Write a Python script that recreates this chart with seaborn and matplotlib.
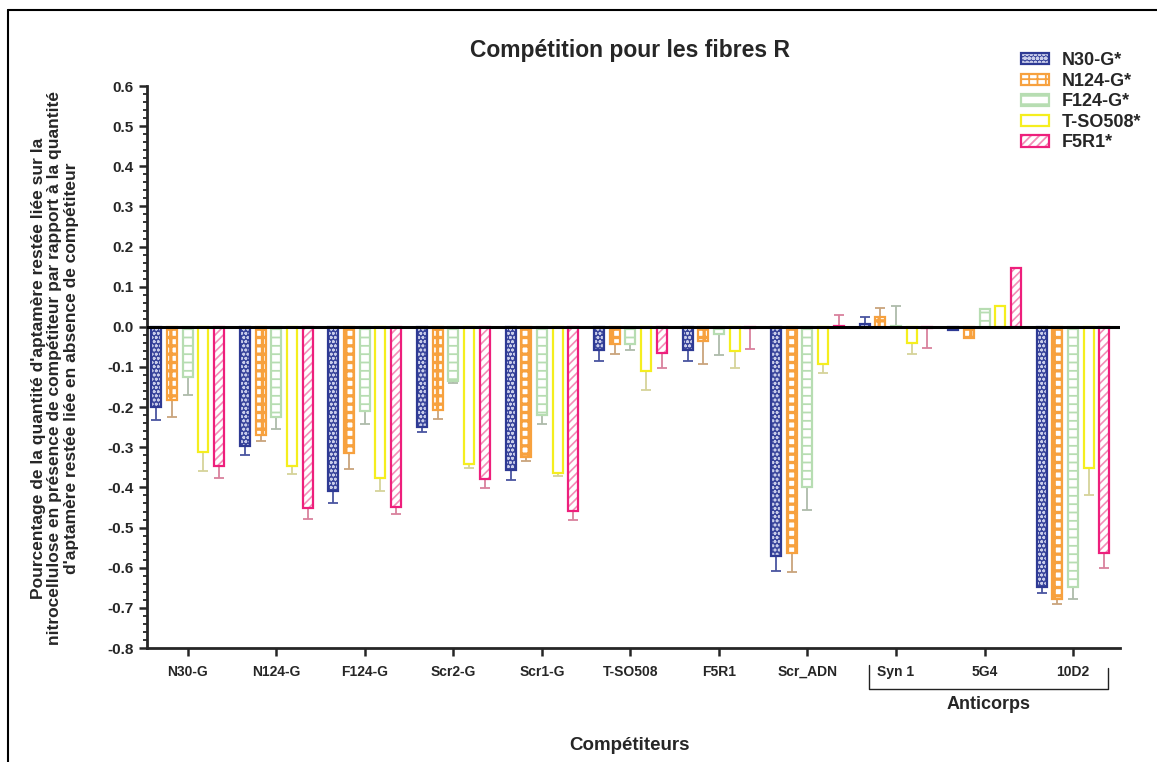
import matplotlib
matplotlib.use("Agg")
import numpy as np
import pandas as pd
import matplotlib.pyplot as plt
import seaborn as sns
from matplotlib.patches import Rectangle, Patch
from matplotlib.lines import Line2D
from matplotlib.legend_handler import HandlerTuple
from matplotlib.ticker import MultipleLocator, FormatStrFormatter

competiteurs = ["N30-G", "N124-G", "F124-G", "Scr2-G", "Scr1-G", "T-SO508",
                "F5R1", "Scr_ADN", "Syn 1", "5G4", "10D2"]
series = ["N30-G*", "N124-G*", "F124-G*", "T-SO508*", "F5R1*"]

n30 = [-0.200, -0.298, -0.409, -0.249, -0.357, -0.057, -0.057, -0.570, 0.007, -0.009, -0.649]
n30_err = [0.031, 0.021, 0.031, 0.013, 0.025, 0.027, 0.028, 0.037, 0.017, 0, 0.013]
n124 = [-0.182, -0.269, -0.315, -0.207, -0.323, -0.042, -0.035, -0.563, 0.024, -0.027, -0.679]
n124_err = [0.042, 0.015, 0.039, 0.023, 0.011, 0.026, 0.058, 0.047, 0.023, 0, 0.012]
f124 = [-0.124, -0.225, -0.209, -0.136, -0.219, -0.042, -0.018, -0.398, 0.002, 0.044, -0.649]
f124_err = [0.046, 0.029, 0.033, 0.005, 0.023, 0.015, 0.052, 0.058, 0.051, 0, 0.028]
tso = [-0.311, -0.347, -0.377, -0.342, -0.365, -0.110, -0.060, -0.092, -0.041, 0.051, -0.352]
tso_err = [0.048, 0.020, 0.032, 0.009, 0.006, 0.048, 0.043, 0.022, 0.027, 0, 0.067]
f5r1 = [-0.347, -0.450, -0.449, -0.379, -0.458, -0.064, -0.003, 0.002, -0.003, 0.146, -0.563]
f5r1_err = [0.030, 0.028, 0.017, 0.022, 0.022, 0.038, 0.052, 0.028, 0.050, 0, 0.037]

valeurs = [n30, n124, f124, tso, f5r1]
erreurs = [n30_err, n124_err, f124_err, tso_err, f5r1_err]

couleurs = ["#2E3A94", "#F7A13E", "#B7DDB2", "#F5EE1E", "#EE1F7C"]
err_couleurs = ["#4a55a0", "#c9a47c", "#aebbaa", "#d6d39a", "#d9819d"]
# (fond, hachure, couleur hachure, epaisseur hachure)
motifs = [("#3A469C", "oooo", "#c9cdea", 0.8),
          ("white", "++", "#F7A13E", 2.4),
          ("white", "--", "#B7DDB2", 1.3),
          ("white", "", "white", 1.0),
          ("white", "////", "#F38DB8", 1.2)]

df = pd.DataFrame({
    "comp": competiteurs * len(series),
    "serie": np.repeat(series, len(competiteurs)),
    "val": np.concatenate(valeurs),
})

sns.set_style("ticks")
plt.rcParams['font.family'] = ['Liberation Sans', 'DejaVu Sans']
plt.rcParams['hatch.linewidth'] = 1.3

fig = plt.figure(figsize=(11.57, 7.62), dpi=100)
ax = fig.add_axes([147/1157, 114/762, 973/1157, 562/762])

sns.barplot(data=df, x="comp", y="val", hue="serie", order=competiteurs, hue_order=series,
            palette=couleurs, errorbar=None, width=0.885, ax=ax, legend=False)

largeur = 0.113
handles = []
barres = list(ax.containers)
for i, cont in enumerate(barres):
    face, hatch, hcol, hlw = motifs[i]
    xs = []
    for p in cont.patches:
        cx = p.get_x() + p.get_width() / 2
        xs.append(cx)
        p.set_x(cx - largeur / 2)
        p.set_width(largeur)
        p.set_facecolor(face)
        p.set_edgecolor(hcol)
        p.set_linewidth(0)
        p.set_hatch(hatch)
        if hasattr(p, "set_hatch_linewidth"):
            p.set_hatch_linewidth(hlw)
        ax.add_patch(Rectangle((p.get_x(), p.get_y()), largeur, p.get_height(), fill=False,
                               ec=couleurs[i], lw=1.6, zorder=p.get_zorder() + 0.1))
    v = np.array(valeurs[i])
    e = np.array(erreurs[i])
    xs = np.array(xs)
    m = e > 0
    bas = np.where(v < 0, e, 0)[m]
    haut = np.where(v >= 0, e, 0)[m]
    ax.errorbar(xs[m], v[m], yerr=[bas, haut], fmt="none", ecolor=err_couleurs[i],
                elinewidth=1.3, capsize=3.5, capthick=1.3, zorder=1)
    hp = Patch(facecolor=face, edgecolor=hcol, hatch=hatch, lw=0)
    op = Patch(facecolor="none", edgecolor=couleurs[i], lw=1.6)
    handles.append((hp, op))

ax.axhline(0, color="black", lw=2.2, zorder=6)
ax.set_xlim(-0.46, 10.53)
ax.set_ylim(-0.8, 0.6)
ax.yaxis.set_major_locator(MultipleLocator(0.1))
ax.yaxis.set_minor_locator(MultipleLocator(0.02))
ax.yaxis.set_major_formatter(FormatStrFormatter("%.1f"))
ax.tick_params(axis="y", which="major", length=6, width=1.8, labelsize=11)
ax.tick_params(axis="y", which="minor", length=3, width=1.3)
ax.tick_params(axis="x", length=6, width=1.8, labelsize=10, pad=6)
for lab in ax.get_xticklabels() + ax.get_yticklabels():
    lab.set_fontweight("bold")
sns.despine(ax=ax)
ax.spines["left"].set_linewidth(2)
ax.spines["bottom"].set_linewidth(2)
ax.set_xlabel("")
ax.set_ylabel("")

# accolade Anticorps
tr = ax.get_xaxis_transform()
ax.plot([7.69, 7.69, 10.40, 10.40], [-0.030, -0.073, -0.073, -0.036], transform=tr,
        color="#222222", lw=1.0, clip_on=False)
ax.text(9.05, -0.101, "Anticorps", transform=tr, ha="center", va="center",
        fontsize=13, fontweight="bold")

fig.text(630/1157, 1 - 50/762, "Compétition pour les fibres R", ha="center", va="center",
         fontsize=16.5, fontweight="bold")
fig.text(630/1157, 1 - 746/762, "Compétiteurs", ha="center", va="center",
         fontsize=13.5, fontweight="bold")
fig.text(55/1157, 1 - 368/762,
         "Pourcentage de la quantité d'aptamère restée liée sur la\n"
         "nitrocellulose en présence de compétiteur par rapport à la quantité\n"
         "d'aptamère restée liée en absence de compétiteur",
         rotation=90, ha="center", va="center", multialignment="center",
         fontsize=12.5, fontweight="bold", linespacing=1.1)

ax.legend(handles, series, loc="upper left", bbox_to_anchor=(1021/1157, 1 - 52/762),
          bbox_transform=fig.transFigure, frameon=False,
          prop=dict(weight="bold", size=13), handlelength=1.55, handleheight=0.6,
          labelspacing=0.2, handletextpad=0.7, borderaxespad=0, borderpad=0,
          handler_map={tuple: HandlerTuple(ndivide=1)})

# cadre
fig.add_artist(Line2D([8/1157, 1], [1 - 10/762, 1 - 10/762], color="black", lw=1.5,
                      transform=fig.transFigure))
fig.add_artist(Line2D([8/1157, 8/1157], [1 - 10/762, 0], color="black", lw=1.5,
                      transform=fig.transFigure))

fig.savefig("out.png", dpi=100)
